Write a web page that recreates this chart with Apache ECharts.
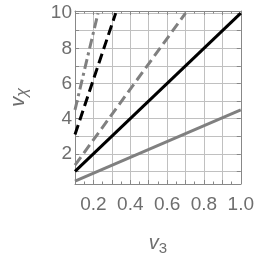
<!DOCTYPE html>
<html><head><meta charset="utf-8">
<script src="https://cdn.jsdelivr.net/npm/echarts@6/dist/echarts.min.js"></script>
<style>html,body{margin:0;padding:0;background:#fff}#c{width:257px;height:261px}</style>
</head><body><div id="c"></div>
<script>
// Data: each line given by its endpoints [v3, v_chi]
const solidGray   = [[0.1, 0.45], [1.0, 4.5]];
const solidBlack  = [[0.1, 1.0],  [1.0, 10.0]];
const dashedGray  = [[0.1, 1.35], [0.70, 10.0]];
const dashedBlack = [[0.1, 3.1],  [0.321, 10.0]];
const dotDashGray = [[0.1, 4.5],  [0.225, 10.0]];
const xTickLabels = [0.2, 0.4, 0.6, 0.8, 1.0];
const yGridValues = [1, 2, 3, 4, 5, 6, 7, 8, 9, 10];
const yTickLabels = [2, 4, 6, 8, 10];

const FONT = 'Liberation Sans';
const TXT = '#6e6e6e';
const GRIDC = '#c0c0c0';
const FRAME = '#888888';
const GRAY = '#808080';

const chart = echarts.init(document.getElementById('c'), null, {renderer: 'canvas'});
const xBase = {
  type: 'value', min: 0.1, max: 1.0, interval: 0.1,
  axisLine: {show: true, lineStyle: {color: FRAME, width: 1}},
  axisTick: {show: true, inside: true, length: 4, lineStyle: {color: FRAME}},
  minorTick: {show: true, splitNumber: 2, length: 2.5, lineStyle: {color: FRAME}},
};
const yBase = {
  type: 'value', min: 0.28, max: 10.12,
  axisLine: {show: true, lineStyle: {color: FRAME, width: 1}},
  axisTick: {show: true, inside: true, length: 4, customValues: yGridValues, lineStyle: {color: FRAME}},
};
chart.setOption({
  animation: false,
  backgroundColor: '#fff',
  grid: {left: 69, top: 11, right: 15, bottom: 77, show: false},
  xAxis: [
    Object.assign({}, xBase, {
      position: 'bottom',
      name: '{v|v}{s|3}', nameLocation: 'middle', nameGap: 47,
      nameTextStyle: {rich: {
        v: {fontFamily: FONT, fontSize: 20, fontStyle: 'italic', color: TXT},
        s: {fontFamily: FONT, fontSize: 15, color: TXT, padding: [10, 0, 0, 0]}
      }},
      axisLabel: {show: true, margin: 11, color: TXT, fontFamily: FONT, fontSize: 19,
        formatter: function (v) {
          const hit = xTickLabels.some(t => Math.abs(t - v) < 1e-6);
          return hit ? v.toFixed(1) : '';
        }},
      splitLine: {show: true, lineStyle: {color: GRIDC, width: 1}}
    }),
    Object.assign({}, xBase, {
      position: 'top', axisLabel: {show: false}, splitLine: {show: false}
    })
  ],
  yAxis: [
    Object.assign({}, yBase, {
      position: 'left',
      name: '{v|v}{s|χ}', nameLocation: 'middle', nameGap: 44,
      nameTextStyle: {rich: {
        v: {fontFamily: FONT, fontSize: 20, fontStyle: 'italic', color: TXT},
        s: {fontFamily: FONT, fontSize: 16, fontStyle: 'italic', color: TXT, padding: [10, 0, 0, 0]}
      }},
      axisLabel: {show: true, margin: 3, color: TXT, fontFamily: FONT, fontSize: 19,
        customValues: yTickLabels},
      splitLine: {show: true, lineStyle: {color: GRIDC, width: 1}}
    }),
    Object.assign({}, yBase, {
      position: 'right', axisLabel: {show: false}, splitLine: {show: false}
    })
  ],
  series: [
    {type: 'line', data: solidGray, showSymbol: false, lineStyle: {color: GRAY, width: 3}},
    {type: 'line', data: solidBlack, showSymbol: false, lineStyle: {color: '#000', width: 3}},
    {type: 'line', data: dashedGray, showSymbol: false, lineStyle: {color: GRAY, width: 3, type: [10, 5]}},
    {type: 'line', data: dashedBlack, showSymbol: false, lineStyle: {color: '#000', width: 3, type: [10, 5]}},
    {type: 'line', data: dotDashGray, showSymbol: false, lineStyle: {color: GRAY, width: 3, type: [10, 4, 3, 4]}}
  ]
});
</script></body></html>
